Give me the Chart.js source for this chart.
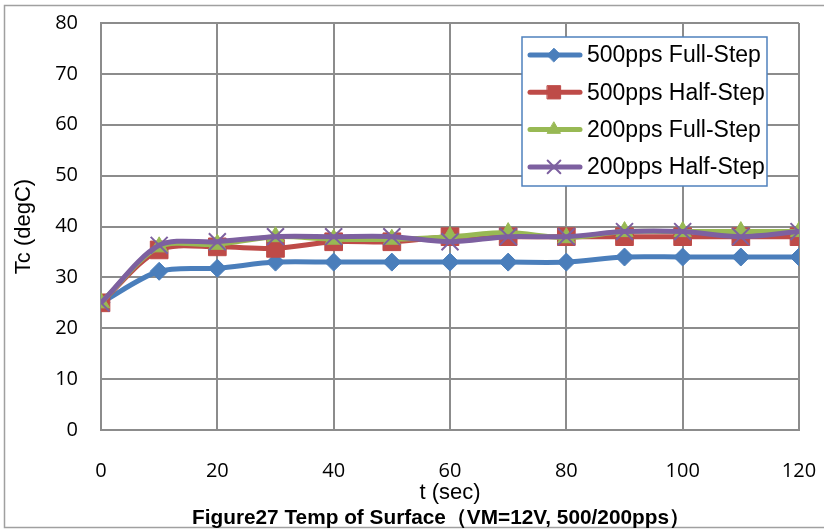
<!DOCTYPE html>
<html>
<head>
<meta charset="utf-8">
<script src="https://cdn.jsdelivr.net/npm/chart.js@4.4.1/dist/chart.umd.min.js"></script>
<style>
  html, body { margin: 0; padding: 0; background: #fff; }
  #wrap { width: 824px; height: 530px; position: relative; }
</style>
</head>
<body>
<div id="wrap"><canvas id="tempChart"></canvas></div>
<script>
// Data
const times = [0, 10, 20, 30, 40, 50, 60, 70, 80, 90, 100, 110, 120];
const full500 = [25, 31.2, 31.8, 33, 33, 33, 33, 33, 33, 34, 34, 34, 34];
const half500 = [25, 35.4, 36, 35.7, 37, 37, 38, 38, 38, 38, 38, 38, 38];
const full200 = [25, 36, 36.5, 38, 37.5, 37.5, 38, 38.8, 37.8, 39, 39, 39, 39];
const half200 = [25, 36.3, 37, 38, 38, 38, 37, 38, 38, 39, 39, 38, 39];
const yTicks = [0, 10, 20, 30, 40, 50, 60, 70, 80];
const xTicks = [0, 20, 40, 60, 80, 100, 120];

const seriesNames = ["500pps Full-Step", "500pps Half-Step", "200pps Full-Step", "200pps Half-Step"];
const colors = ["#4a7ebb", "#be4b48", "#98b954", "#7d60a0"];
const figureTitle = "Figure27 Temp of Surface（VM=12V, 500/200pps）";

function toPoints(values) {
  return times.map(function (t, i) { return { x: t, y: values[i] }; });
}

const GRID = "#8c8c8c";
const ARIAL = "'Liberation Sans', Arial, sans-serif";

// whole-figure frame + caption under the chart
const framePlugin = {
  id: "frame",
  beforeDraw: function (chart) {
    const ctx = chart.ctx;
    ctx.save();
    ctx.fillStyle = "#fff";
    ctx.fillRect(0, 0, chart.width, chart.height);
    ctx.strokeStyle = "#a0a0a0";
    ctx.lineWidth = 1.5;
    ctx.strokeRect(4.5, 5.5, 840, 522);
    ctx.restore();
  },
  afterDraw: function (chart) {
    const ctx = chart.ctx;
    ctx.save();
    ctx.fillStyle = "#000";
    ctx.font = "bold 20.8px " + ARIAL;
    ctx.textAlign = "center";
    ctx.textBaseline = "middle";
    ctx.fillText(figureTitle, 441, 518);
    ctx.restore();
  }
};

// boxed legend inside the plot, like the Excel original
const boxLegend = {
  id: "boxLegend",
  afterDraw: function (chart) {
    const ctx = chart.ctx;
    const left = 522, top = 37, right = 767, bottom = 186;
    ctx.save();
    ctx.fillStyle = "#fff";
    ctx.fillRect(left, top, right - left, bottom - top);
    ctx.strokeStyle = "#4f81bd";
    ctx.lineWidth = 1.5;
    ctx.strokeRect(left, top, right - left, bottom - top);
    chart.data.datasets.forEach(function (ds, i) {
      const y = top + 18 + i * 37.3;
      ctx.strokeStyle = ds.borderColor;
      ctx.lineWidth = 5;
      ctx.lineCap = "round";
      ctx.beginPath();
      ctx.moveTo(530, y);
      ctx.lineTo(580, y);
      ctx.stroke();
      if (Chart.helpers && Chart.helpers.drawPoint) {
        ctx.fillStyle = ds.backgroundColor;
        ctx.lineWidth = ds.pointStyle === "crossRot" ? 2 : 1;
        Chart.helpers.drawPoint(ctx, {
          pointStyle: ds.pointStyle,
          radius: ds.pointRadius * 0.75,
          rotation: 0,
          borderWidth: ctx.lineWidth
        }, 554, y);
      }
      ctx.fillStyle = "#000";
      ctx.font = "23px " + ARIAL;
      ctx.textBaseline = "middle";
      ctx.textAlign = "left";
      ctx.fillText(ds.label, 587, y + 1);
    });
    ctx.restore();
  }
};

function makeSet(idx, values, style, radius, order) {
  return {
    label: seriesNames[idx],
    data: toPoints(values),
    borderColor: colors[idx],
    backgroundColor: colors[idx],
    borderWidth: 5,
    pointStyle: style,
    pointRadius: radius,
    pointBorderWidth: style === "crossRot" ? 2 : 1,
    pointBorderColor: colors[idx],
    pointBackgroundColor: colors[idx],
    tension: 0.3,
    fill: false,
    order: order
  };
}

new Chart(document.getElementById("tempChart").getContext("2d"), {
  type: "line",
  data: {
    datasets: [
      makeSet(0, full500, "rectRot", 9, 3),
      makeSet(1, half500, "rect", 12.5, 2),
      makeSet(2, full200, "triangle", 10, 1),
      makeSet(3, half200, "crossRot", 12, 0)
    ]
  },
  options: {
    responsive: true,
    maintainAspectRatio: false,
    animation: false,
    layout: { padding: { top: 23, right: 25, left: 10, bottom: 24 } },
    plugins: {
      legend: { display: false },
      tooltip: { enabled: false }
    },
    scales: {
      x: {
        type: "linear",
        min: xTicks[0],
        max: xTicks[xTicks.length - 1],
        afterBuildTicks: function (scale) {
          scale.ticks = xTicks.map(function (v) { return { value: v }; });
        },
        afterFit: function (scale) { scale.height = 76; },
        grid: { color: GRID, lineWidth: 2, drawTicks: true, tickLength: 26, tickColor: "rgba(0,0,0,0)" },
        border: { color: GRID, width: 2 },
        ticks: {
          color: "#000",
          padding: 3,
          font: { family: "'Open Sans', sans-serif", size: 20 }
        },
        title: {
          display: true,
          text: "t (sec)",
          color: "#000",
          font: { family: ARIAL, size: 22 },
          padding: { top: 0, bottom: 0 }
        }
      },
      y: {
        min: yTicks[0],
        max: yTicks[yTicks.length - 1],
        afterBuildTicks: function (scale) {
          scale.ticks = yTicks.map(function (v) { return { value: v }; });
        },
        afterFit: function (scale) { scale.width = 91; },
        grid: { color: GRID, lineWidth: 2, drawTicks: true, tickLength: 20, tickColor: "rgba(0,0,0,0)" },
        border: { color: GRID, width: 2 },
        ticks: {
          color: "#000",
          padding: 3,
          font: { family: "'Open Sans', sans-serif", size: 20 }
        },
        title: {
          display: true,
          text: "Tc (degC)",
          color: "#000",
          font: { family: ARIAL, size: 22 },
          padding: { top: 1, bottom: 0 }
        }
      }
    }
  },
  plugins: [framePlugin, boxLegend]
});
</script>
</body>
</html>
